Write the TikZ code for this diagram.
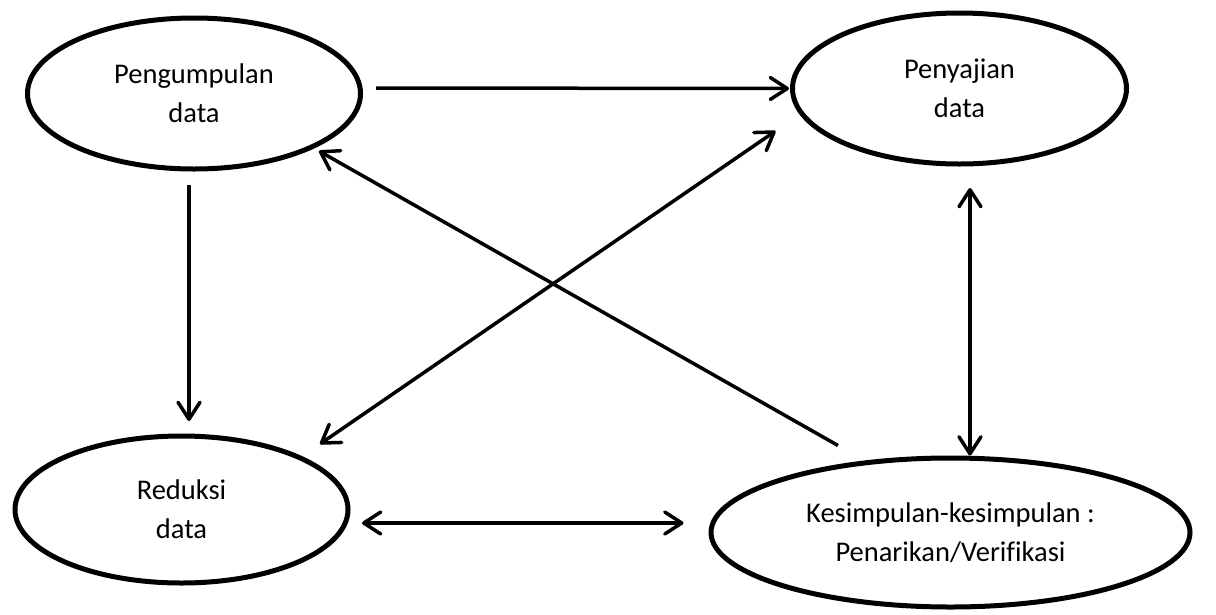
\documentclass[tikz,border=0pt]{standalone}
\usepackage{fontspec}
\setmainfont{Carlito}[Ligatures=NoCommon]
\usetikzlibrary{arrows.meta,shapes.geometric}
\begin{document}
\begin{tikzpicture}[x=1pt,y=-1pt,
  oval/.style={draw,ellipse,line width=5pt,inner sep=0pt,align=center,font=\fontsize{28.5}{39}\selectfont},
  conn/.style={line width=3.5pt},
  arr/.style={-{Straight Barb[length=17pt,width=22pt,round]}},
  darr/.style={{Straight Barb[length=17pt,width=22pt,round]}-{Straight Barb[length=17pt,width=22pt,round]}}]
\useasboundingbox (0,0) rectangle (1216,614);
\node[oval,minimum width=333pt,minimum height=151pt] (peng) at (194,93.5) {Pengumpulan\\data};
\node[oval,minimum width=334pt,minimum height=151pt] (peny) at (959.5,88.5) {Penyajian\\data};
\node[oval,minimum width=333pt,minimum height=147pt] (red) at (181.5,509.5) {Reduksi\\data};
\node[oval,minimum width=479pt,minimum height=149pt] (kes) at (950.5,532.5) {Kesimpulan-kesimpulan :\\Penarikan/Verifikasi};
\draw[conn,arr] ([shift={(13,-5.5)}]peng.east) -- ([shift={(-1,0)}]peny.west);
\draw[conn,arr] ([shift={(-5,13.5)}]peng.south) -- ([shift={(7.5,-12.5)}]red.north);
\draw[conn,arr] ([shift={(-112.5,-10)}]kes.north) -- ([shift={(125,-20.5)}]peng.south);
\draw[conn,darr] ([shift={(138.5,10.5)}]red.north) -- ([shift={(-14.5,42.5)}]peny.west);
\draw[conn,darr] ([shift={(10.5,21.5)}]peny.south) -- ([shift={(19.5,0)}]kes.north);
\draw[conn,darr] ([shift={(11.5,13.5)}]red.east) -- ([shift={(-25,-9.5)}]kes.west);
\end{tikzpicture}
\end{document}
